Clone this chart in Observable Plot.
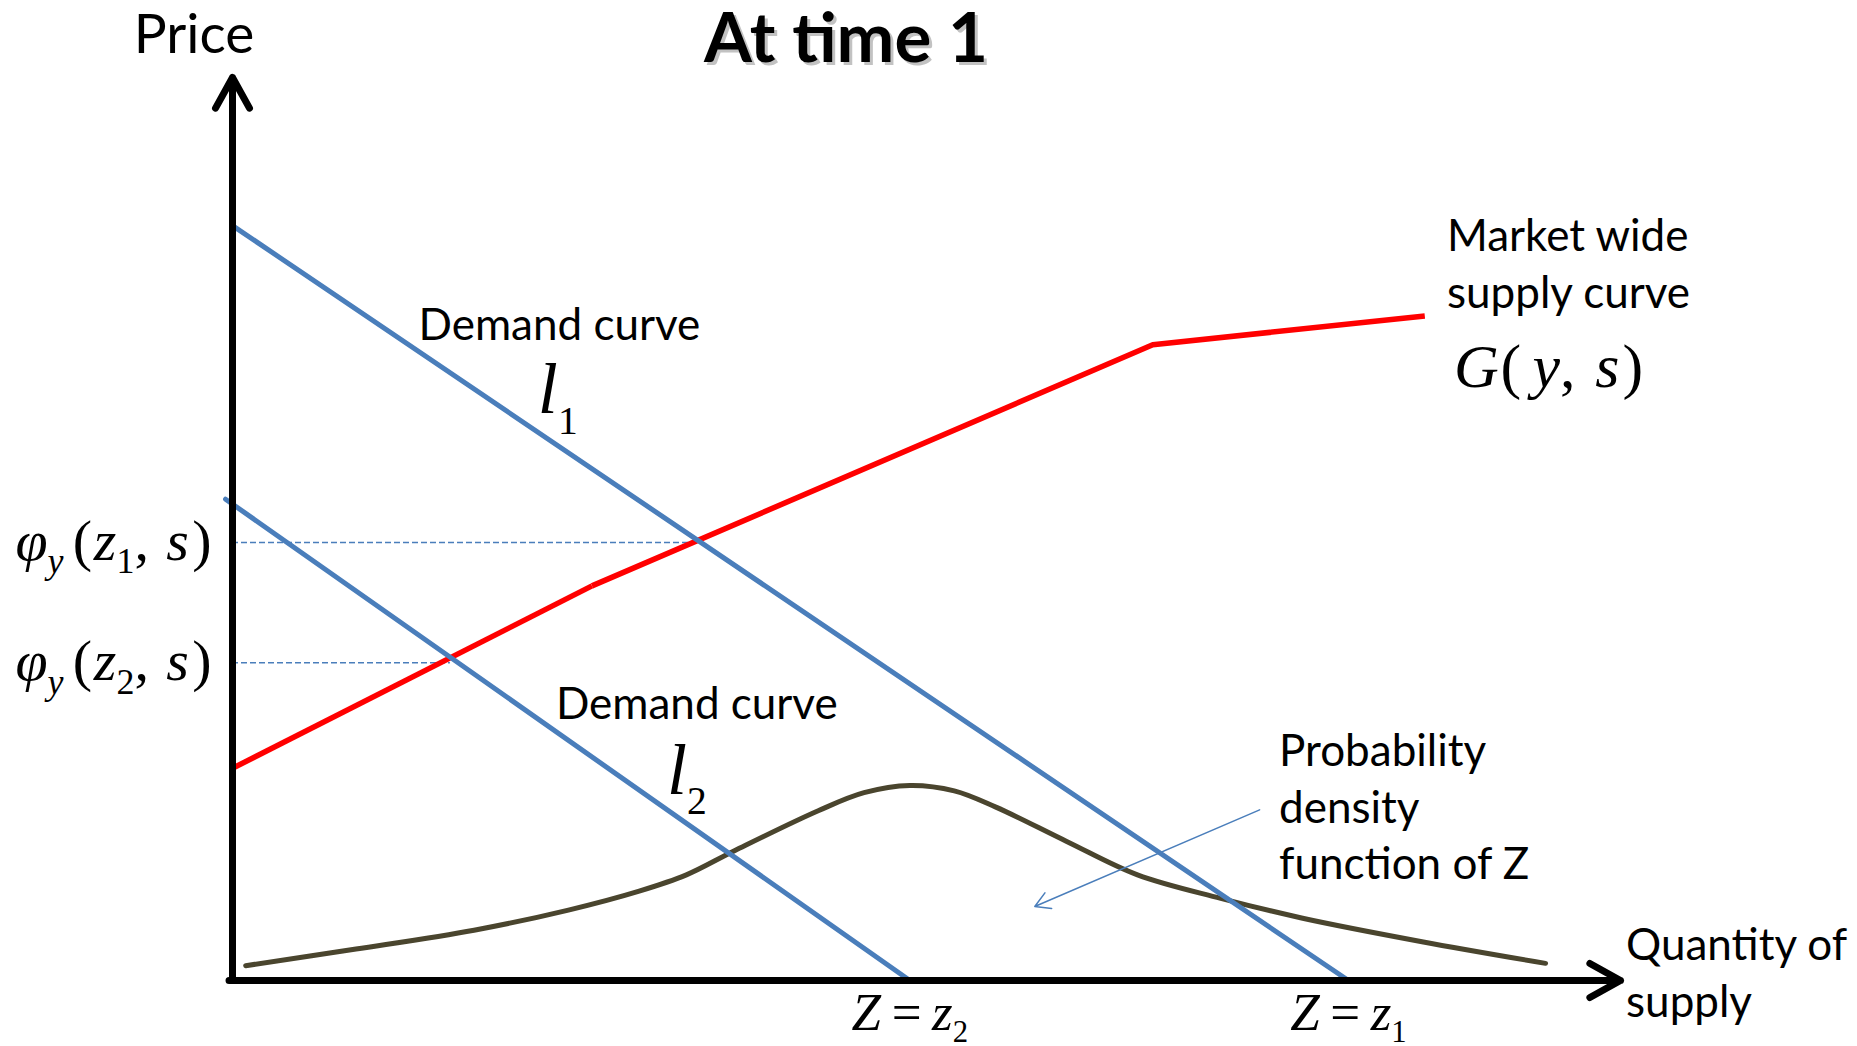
<!DOCTYPE html>
<html><head><meta charset="utf-8">
<script src="https://cdn.jsdelivr.net/npm/d3@7"></script>
<script src="https://cdn.jsdelivr.net/npm/@observablehq/plot@0.6"></script>
<style>html,body{margin:0;padding:0;background:#fff;} #chart svg{display:block;}</style>
</head><body><div id="chart"></div>
<script>
// ---- data (quantity on x, price on y; arbitrary units 0–100) ----
const demand1X = [0, 80.4];
const demand1Y = [83.6, 0];
const demand2X = [-0.5, 48.8];
const demand2Y = [53.3, 0];
const supplyX = [0, 25.9, 25.9, 66.3, 85.9];
const supplyY = [23.5, 43.7, 43.7, 70.4, 73.6];
const supplySegment = ["a", "a", "b", "b", "b"];
const densityX = [0.95, 8.9, 17.4, 24.2, 29.3, 32.7, 36.2, 42.2, 45.5, 48.8, 52, 55, 60.1, 65.2, 71.2, 77.1, 85.7, 94.6];
const densityY = [1.64, 3.48, 5.57, 7.8, 9.9, 11.7, 14.4, 18.8, 20.8, 21.6, 21.0, 19.2, 15.4, 11.7, 9.1, 6.9, 4.3, 1.9];
const priceLevels = [48.5, 35.2];          // φy(z1,s), φy(z2,s)
const priceLevelEnds = [33.6, 15.7];       // where they meet the supply curve
const priceLabels = ["φy(z1, s)", "φy(z2, s)"];
const zValues = [80.4, 48.8];              // z1, z2
const zLabels = ["Z = z1", "Z = z2"];
const textLabels = ["Demand curve", "Demand curve", "Market wide\nsupply curve", "Probability\ndensity\nfunction of Z", "Quantity of\nsupply"];
const textLabelX = [13.4, 23.3, 87.5, 75.4, 100.4];
const textLabelY = [70.9, 29.0, 74.5, 11.2, -4.0];
const curveNames = ["l1", "l2", "G(y, s)"];
const curveNameX = [22.0, 31.3, 88.0];
const curveNameY = [62.8, 20.7, 65.7];
const pointerFrom = [74.0, 18.9];
const pointerTo = [57.8, 8.2];
const titleText = "At time 1";
const yAxisLabel = "Price";

// ---- math formatting: [text, italic, subscript, extra space before (em)] ----
const mathFormats = {
  "φy(z1, s)": {F: 58, subScale: 0.62, subShift: 0.24, segs: [["φ",1,0,0],["y",1,1,0],["(",0,0,0.16],["z",1,0,0.03],["1",0,1,0],[",",0,0,0],["s",1,0,0.3],[")",0,0,0.06]]},
  "φy(z2, s)": {F: 58, subScale: 0.62, subShift: 0.24, segs: [["φ",1,0,0],["y",1,1,0],["(",0,0,0.16],["z",1,0,0.03],["2",0,1,0],[",",0,0,0],["s",1,0,0.3],[")",0,0,0.06]]},
  "Z = z1": {F: 53, subScale: 0.58, subShift: 0.23, segs: [["Z",1,0,0],["=",0,0,0.2],["z",1,0,0.2],["1",0,1,0]]},
  "Z = z2": {F: 53, subScale: 0.58, subShift: 0.23, segs: [["Z",1,0,0],["=",0,0,0.2],["z",1,0,0.2],["2",0,1,0]]},
  "l1": {F: 72, subScale: 0.55, subShift: 0.28, segs: [["l",1,0,0],["1",0,1,0]]},
  "l2": {F: 72, subScale: 0.55, subShift: 0.28, segs: [["l",1,0,0],["2",0,1,0]]},
  "G(y, s)": {F: 62, subScale: 0.6, subShift: 0.25, segs: [["G",1,0,0],["(",0,0,0.03],["y",1,0,0.18],[",",0,0,0],["s",1,0,0.32],[")",0,0,0.05]]}
};

const blue = "#4a7ebb";
const serif = "Liberation Serif, Times New Roman, serif";
const sans = "Lato, sans-serif";

const demand1 = demand1X.map((x, i) => ({x, y: demand1Y[i]}));
const demand2 = demand2X.map((x, i) => ({x, y: demand2Y[i]}));
const supply = supplyX.map((x, i) => ({x, y: supplyY[i], s: supplySegment[i]}));
const density = densityX.map((x, i) => ({x, y: densityY[i]}));
const levels = priceLevels.map((y, i) => ({y, x2: priceLevelEnds[i], label: priceLabels[i]}));
const zs = zValues.map((x, i) => ({x, label: zLabels[i]}));
const texts = textLabels.map((t, i) => ({t, x: textLabelX[i], y: textLabelY[i]}));
const names = curveNames.map((t, i) => ({t, x: curveNameX[i], y: curveNameY[i]}));

const plot = Plot.plot({
  width: 1857, height: 1046,
  marginLeft: 232, marginRight: 237, marginTop: 77, marginBottom: 66,
  x: {domain: [0, 100], axis: null},
  y: {domain: [0, 100], axis: null},
  marks: [
    Plot.ruleY(levels, {y: "y", x1: 0, x2: "x2", stroke: blue, strokeWidth: 1.5, strokeDasharray: "6,3"}),
    Plot.line(density, {x: "x", y: "y", curve: "catmull-rom", stroke: "#4a452e", strokeWidth: 5}),
    Plot.line(supply, {x: "x", y: "y", z: "s", stroke: "#ff0000", strokeWidth: 5.5, strokeLinecap: "butt"}),
    Plot.line(demand1, {x: "x", y: "y", stroke: blue, strokeWidth: 5}),
    Plot.line(demand2, {x: "x", y: "y", stroke: blue, strokeWidth: 5}),
    Plot.arrow([{}], {x1: pointerFrom[0], y1: pointerFrom[1], x2: pointerTo[0], y2: pointerTo[1], stroke: blue, strokeWidth: 1.5, headLength: 17, headAngle: 60}),
    // axes
    Plot.arrow([{}], {x1: 0, y1: 0, x2: 0, y2: 100, stroke: "black", strokeWidth: 7, headLength: 7.5, headAngle: 58, strokeLinecap: "round", strokeLinejoin: "round"}),
    Plot.arrow([{}], {x1: -0.25, y1: 0, x2: 100, y2: 0, stroke: "black", strokeWidth: 7, headLength: 7.5, headAngle: 58, strokeLinecap: "round", strokeLinejoin: "round"}),
    // texts
    Plot.text(texts, {x: "x", y: "y", text: "t", textAnchor: "start", lineAnchor: "bottom", lineHeight: 1.29, fontSize: 44, fontFamily: sans, fill: "black"}),
    Plot.text([yAxisLabel], {x: -2.77, y: 102.66, text: d => d, textAnchor: "middle", lineAnchor: "bottom", fontSize: 55, fontFamily: sans, fill: "black"}),
    Plot.text([titleText], {x: 44.2, y: 101.7, text: d => d, dx: 3, dy: 3, textAnchor: "middle", lineAnchor: "bottom", fontSize: 69, fontWeight: "bold", fontFamily: sans, fill: "#9a9a9a", fillOpacity: 0.6}),
    Plot.text([titleText], {x: 44.2, y: 101.7, text: d => d, textAnchor: "middle", lineAnchor: "bottom", fontSize: 69, fontWeight: "bold", fontFamily: sans, fill: "black"}),
    Plot.text(levels, {x: -1.5, y: "y", text: "label", dy: 17, textAnchor: "end", lineAnchor: "bottom", fontFamily: serif, fill: "black"}),
    Plot.text(zs, {x: "x", y: -5.5, text: "label", textAnchor: "middle", lineAnchor: "bottom", fontFamily: serif, fill: "black"}),
    Plot.text(names, {x: "x", y: "y", text: "t", textAnchor: "start", lineAnchor: "bottom", fontFamily: serif, fill: "black"})
  ]
});

// rich math formatting with tspans (italics + subscripts)
plot.querySelectorAll("text").forEach(t => {
  const fmt = mathFormats[t.textContent];
  if (!fmt) return;
  const {F, subScale, subShift, segs} = fmt;
  while (t.firstChild) t.removeChild(t.firstChild);
  let cur = 0;
  for (const [s, it, sub, dx] of segs) {
    const ts = document.createElementNS("http://www.w3.org/2000/svg", "tspan");
    const target = sub ? subShift * F : 0;
    ts.setAttribute("dy", target - cur);
    cur = target;
    if (dx) ts.setAttribute("dx", dx * F);
    ts.setAttribute("font-size", sub ? F * subScale : F);
    ts.setAttribute("font-style", it ? "italic" : "normal");
    ts.textContent = s;
    t.appendChild(ts);
  }
});

document.getElementById("chart").appendChild(plot);
</script>
</body></html>
